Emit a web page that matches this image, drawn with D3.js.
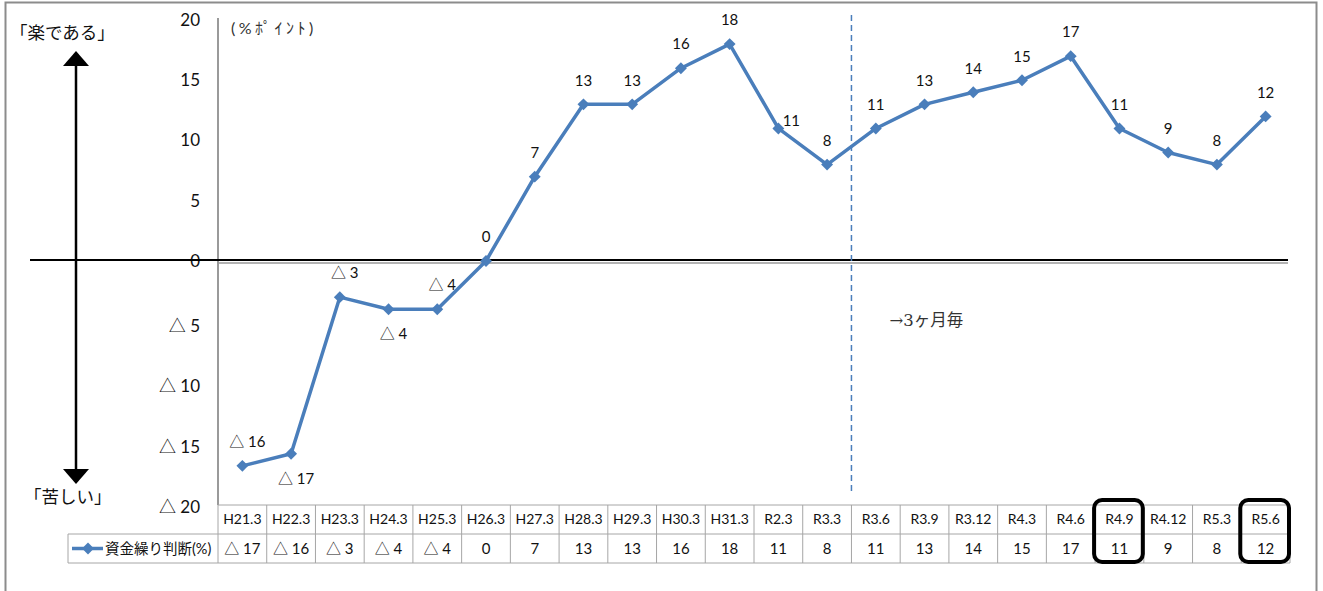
<!DOCTYPE html>
<html>
<head>
<meta charset="utf-8">
<script src="https://cdn.jsdelivr.net/npm/d3@7"></script>
<style>
  body { margin: 0; background: #fff; }
  svg text { font-family: Lato, "Noto Sans CJK JP", sans-serif; fill: #111; }
</style>
</head>
<body>
<div id="chart"></div>
<script>

// 資金繰り判断 (%ポイント)
var categories = ["H21.3","H22.3","H23.3","H24.3","H25.3","H26.3","H27.3","H28.3","H29.3","H30.3","H31.3",
                  "R2.3","R3.3","R3.6","R3.9","R3.12","R4.3","R4.6","R4.9","R4.12","R5.3","R5.6"];
var values = [-17, -16, -3, -4, -4, 0, 7, 13, 13, 16, 18, 11, 8, 11, 13, 14, 15, 17, 11, 9, 8, 12];
// labels next to the points, as printed on the chart
var pointLabels = ["△ 16","△ 17","△ 3","△ 4","△ 4","0","7","13","13","16","18","11","8","11","13","14","15","17","11","9","8","12"];
var labelSide = ["up","down","up","down","up","up","up","up","up","up","up","right","up","up","up","up","up","up","up","up","up","up"];
// values as printed in the data table
var tableValues = ["△ 17","△ 16","△ 3","△ 4","△ 4","0","7","13","13","16","18","11","8","11","13","14","15","17","11","9","8","12"];
var yTicks = [20, 15, 10, 5, 0, -5, -10, -15, -20];
var highlighted = ["R4.9", "R5.6"];
var splitAfter = "R3.3";

var seriesName = "資金繰り判断(%)";
var blue = "#4a7ebb";

var width = 1323, height = 591;

var svg = d3.select("#chart").append("svg")
  .attr("width", width)
  .attr("height", height);

// outer frame
svg.append("rect")
  .attr("x", 5.5).attr("y", 2.5)
  .attr("width", 1311).attr("height", 620)
  .attr("fill", "none").attr("stroke", "#8c8c8c").attr("stroke-width", 2);

var x = d3.scaleBand().domain(categories).range([218, 1290]);
var y = d3.scaleLinear().domain([-20, 20]).range([502, 20]);

var tableTop = 505, rowH = 29;

// y axis labels
svg.append("g").selectAll("text")
  .data(yTicks).enter()
  .append("text")
  .attr("x", 200)
  .attr("y", function (d) { return y(d) + (d < 0 ? 5 : 0); })
  .attr("dy", "0.35em")
  .attr("text-anchor", "end")
  .style("font-size", "17px")
  .text(function (d) { return d < 0 ? "△ " + (-d) : d; });

// y axis line
svg.append("line")
  .attr("x1", 218).attr("x2", 218)
  .attr("y1", 18).attr("y2", tableTop)
  .attr("stroke", "#9a9a9a").attr("stroke-width", 2);

// zero line (double)
svg.append("line")
  .attr("x1", 218).attr("x2", 1288)
  .attr("y1", y(0) + 2).attr("y2", y(0) + 2)
  .attr("stroke", "#9a9a9a").attr("stroke-width", 1.5);
svg.append("line")
  .attr("x1", 30).attr("x2", 1288)
  .attr("y1", y(0) - 1).attr("y2", y(0) - 1)
  .attr("stroke", "#000").attr("stroke-width", 2);

// split dashed line
var splitX = x(splitAfter) + x.bandwidth();
svg.append("line")
  .attr("x1", splitX).attr("x2", splitX)
  .attr("y1", 15).attr("y2", 495)
  .attr("stroke", blue).attr("stroke-width", 1.5)
  .attr("stroke-dasharray", "6,4");

svg.append("text")
  .attr("x", splitX + 38).attr("y", 326)
  .style("font-family", "'DejaVu Serif', 'Noto Sans CJK JP', serif")
  .style("font-size", "16.5px")
  .style("fill", "#333")
  .text("→3ヶ月毎");

svg.append("text")
  .attr("x", 231).attr("y", 34)
  .style("font-size", "16px")
  .style("fill", "#333")
  .style("letter-spacing", "3.5px")
  .text("(%ﾎﾟｲﾝﾄ)");

// arrow on the left
var arrowX = 76;
svg.append("line")
  .attr("x1", arrowX).attr("x2", arrowX)
  .attr("y1", 62).attr("y2", 472)
  .attr("stroke", "#000").attr("stroke-width", 2.5);
svg.append("path")
  .attr("d", "M" + arrowX + ",51 L" + (arrowX + 13) + ",66 L" + (arrowX - 13) + ",66 Z")
  .attr("fill", "#000");
svg.append("path")
  .attr("d", "M" + arrowX + ",484 L" + (arrowX + 13) + ",469 L" + (arrowX - 13) + ",469 Z")
  .attr("fill", "#000");

svg.append("text")
  .attr("x", 10).attr("y", 39)
  .style("font-size", "17.5px")
  .text("「楽である」");
svg.append("text")
  .attr("x", 24).attr("y", 503)
  .style("font-size", "17.5px")
  .text("「苦しい」");

// series line
var cx = function (d, i) { return x(categories[i]) + x.bandwidth() / 2; };
var line = d3.line()
  .x(function (d, i) { return cx(d, i); })
  .y(function (d) { return y(d); });

svg.append("path")
  .datum(values)
  .attr("d", line)
  .attr("fill", "none")
  .attr("stroke", blue)
  .attr("stroke-width", 3.5)
  .attr("stroke-linejoin", "round");

var diamond = d3.symbol().type(d3.symbolDiamond2).size(90);
svg.append("g").selectAll("path")
  .data(values).enter()
  .append("path")
  .attr("d", diamond)
  .attr("transform", function (d, i) { return "translate(" + cx(d, i) + "," + y(d) + ")"; })
  .attr("fill", blue);

// point labels
svg.append("g").selectAll("text")
  .data(values).enter()
  .append("text")
  .attr("x", function (d, i) {
    var s = labelSide[i];
    if (s === "right") return cx(d, i) + 13;
    return cx(d, i) + (d < 0 ? 5 : 0);
  })
  .attr("y", function (d, i) {
    var s = labelSide[i];
    if (s === "down") return y(d) + 25;
    if (s === "right") return y(d) - 8;
    return y(d) - 24;
  })
  .attr("dy", "0.35em")
  .attr("text-anchor", "middle")
  .style("font-size", "15px")
  .text(function (d, i) { return pointLabels[i]; });

// data table
var table = svg.append("g").attr("class", "table");
var tableRight = x.range()[1];
var gridColor = "#a6a6a6";

table.append("line")
  .attr("x1", 218).attr("x2", tableRight)
  .attr("y1", tableTop).attr("y2", tableTop)
  .attr("stroke", gridColor);
table.append("line")
  .attr("x1", 68).attr("x2", tableRight)
  .attr("y1", tableTop + rowH).attr("y2", tableTop + rowH)
  .attr("stroke", gridColor);
table.append("line")
  .attr("x1", 68).attr("x2", tableRight)
  .attr("y1", tableTop + 2 * rowH).attr("y2", tableTop + 2 * rowH)
  .attr("stroke", gridColor);
table.append("line")
  .attr("x1", 68).attr("x2", 68)
  .attr("y1", tableTop + rowH).attr("y2", tableTop + 2 * rowH)
  .attr("stroke", gridColor);

table.selectAll(".col")
  .data(categories).enter()
  .append("line")
  .attr("class", "col")
  .attr("x1", function (d) { return x(d) + x.bandwidth(); })
  .attr("x2", function (d) { return x(d) + x.bandwidth(); })
  .attr("y1", tableTop).attr("y2", tableTop + 2 * rowH)
  .attr("stroke", gridColor);
table.append("line")
  .attr("x1", 218).attr("x2", 218)
  .attr("y1", tableTop).attr("y2", tableTop + 2 * rowH)
  .attr("stroke", gridColor);

table.selectAll(".hd")
  .data(categories).enter()
  .append("text")
  .attr("class", "hd")
  .attr("x", function (d) { return x(d) + x.bandwidth() / 2; })
  .attr("y", tableTop + rowH / 2)
  .attr("dy", "0.35em")
  .attr("text-anchor", "middle")
  .style("font-size", "14px")
  .text(function (d) { return d; });

table.selectAll(".vl")
  .data(tableValues).enter()
  .append("text")
  .attr("class", "vl")
  .attr("x", function (d, i) { return x(categories[i]) + x.bandwidth() / 2; })
  .attr("y", tableTop + rowH * 1.5)
  .attr("dy", "0.35em")
  .attr("text-anchor", "middle")
  .style("font-size", "15px")
  .text(function (d) { return d; });

// legend key in the table
var ly = tableTop + rowH * 1.5;
table.append("line")
  .attr("x1", 72).attr("x2", 103)
  .attr("y1", ly).attr("y2", ly)
  .attr("stroke", blue).attr("stroke-width", 3.5);
table.append("path")
  .attr("d", diamond)
  .attr("transform", "translate(88," + ly + ")")
  .attr("fill", blue);
table.append("text")
  .attr("x", 105).attr("y", ly)
  .attr("dy", "0.35em")
  .style("font-size", "14.5px")
  .text(seriesName);

// highlight boxes
svg.append("g").selectAll("rect")
  .data(highlighted).enter()
  .append("rect")
  .attr("x", function (d) { return x(d) - 1; })
  .attr("y", tableTop - 5)
  .attr("width", x.bandwidth())
  .attr("height", 2 * rowH + 4)
  .attr("rx", 8)
  .attr("fill", "none")
  .attr("stroke", "#000")
  .attr("stroke-width", 4);

</script>
</body>
</html>
